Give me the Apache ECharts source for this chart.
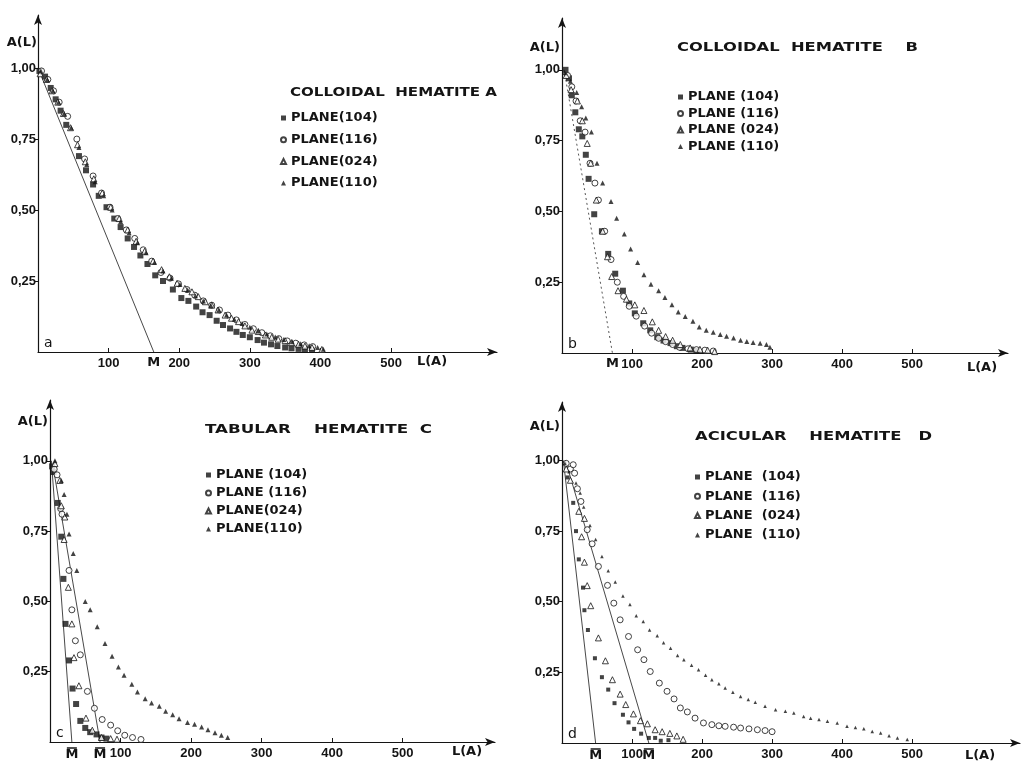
<!DOCTYPE html>
<html>
<head>
<meta charset="utf-8">
<title>Fourier coefficients A(L) of hematite line profiles</title>
<script src="https://cdn.jsdelivr.net/npm/echarts@6/dist/echarts.min.js"></script>
<style>
  html, body { margin: 0; padding: 0; background: #fff; }
  #chart { width: 1023px; height: 765px; }
</style>
</head>
<body>
<div id="chart"></div>
<script>
// ---- Data: A(L) versus column length L (Å) for four reflections ----

// Panel a: colloidal hematite A
const a104 = [[2,0.99],[10,0.97],[18,0.93],[25,0.89],[32,0.85],[40,0.80],[58,0.69],[68,0.64],[78,0.59],[86,0.55],[97,0.51],[108,0.47],[117,0.44],[127,0.40],[136,0.37],[145,0.34],[155,0.31],[166,0.27],[177,0.25],[191,0.22],[203,0.19],[213,0.18],[224,0.16],[233,0.14],[243,0.13],[253,0.11],[262,0.095],[272,0.083],[281,0.071],[290,0.06],[300,0.052],[311,0.042],[320,0.033],[330,0.027],[339,0.021],[350,0.016],[359,0.013],[369,0.011],[378,0.009],[388,0.008]];
const a116 = [[5,0.99],[14,0.96],[22,0.92],[30,0.88],[42,0.83],[55,0.75],[66,0.68],[78,0.62],[90,0.56],[102,0.51],[113,0.47],[125,0.43],[137,0.40],[149,0.36],[161,0.32],[174,0.28],[187,0.26],[199,0.24],[211,0.22],[222,0.20],[234,0.18],[246,0.165],[257,0.148],[269,0.13],[281,0.113],[293,0.097],[305,0.082],[317,0.068],[329,0.057],[341,0.047],[353,0.039],[365,0.031],[377,0.025],[389,0.019]];
const a024 = [[3,0.98],[12,0.96],[20,0.92],[28,0.88],[36,0.84],[46,0.79],[56,0.73],[67,0.67],[79,0.61],[91,0.56],[103,0.51],[115,0.47],[127,0.43],[139,0.39],[151,0.355],[163,0.32],[175,0.29],[186,0.265],[197,0.242],[208,0.224],[218,0.212],[227,0.195],[237,0.177],[246,0.165],[255,0.148],[265,0.13],[274,0.119],[284,0.107],[293,0.092],[303,0.077],[312,0.072],[322,0.06],[331,0.052],[340,0.045],[350,0.04],[359,0.033],[369,0.027],[378,0.021],[388,0.016],[402,0.009]];
const a110 = [[4,0.99],[13,0.96],[21,0.92],[29,0.88],[37,0.84],[47,0.79],[58,0.72],[69,0.66],[81,0.60],[93,0.55],[105,0.50],[117,0.46],[129,0.42],[141,0.385],[153,0.35],[165,0.315],[177,0.285],[189,0.26],[201,0.238],[212,0.218],[223,0.198],[234,0.18],[245,0.163],[256,0.147],[267,0.13],[278,0.115],[289,0.10],[300,0.087],[312,0.074],[324,0.063],[336,0.053],[348,0.044],[360,0.036],[372,0.029],[384,0.022],[396,0.016],[404,0.01]];
const tangentA = [[0,1.0],[164,0]];

// Panel b: colloidal hematite B
const b104 = [[5,1.0],[10,0.97],[14,0.91],[19,0.85],[24,0.79],[29,0.765],[34,0.70],[38,0.615],[46,0.49],[57,0.43],[66,0.35],[76,0.28],[87,0.22],[96,0.175],[104,0.14],[116,0.105],[126,0.08],[136,0.056],[145,0.044],[155,0.035],[164,0.024],[172,0.018],[184,0.012],[192,0.008]];
const b116 = [[8,0.98],[14,0.94],[20,0.89],[26,0.82],[33,0.78],[40,0.67],[47,0.60],[52,0.54],[61,0.43],[70,0.33],[79,0.25],[88,0.20],[96,0.165],[106,0.13],[118,0.095],[128,0.07],[138,0.052],[148,0.04],[158,0.03],[168,0.02],[180,0.015],[192,0.012],[204,0.01],[216,0.007]];
const b024 = [[6,0.98],[13,0.93],[22,0.89],[29,0.82],[36,0.74],[41,0.67],[49,0.54],[58,0.43],[65,0.34],[71,0.27],[80,0.22],[92,0.19],[104,0.17],[117,0.15],[129,0.11],[138,0.08],[148,0.058],[158,0.045],[169,0.03],[183,0.018],[197,0.013],[208,0.01],[218,0.005]];
const b110 = [[4,0.99],[12,0.96],[21,0.92],[28,0.87],[34,0.83],[42,0.78],[50,0.67],[58,0.60],[70,0.535],[78,0.476],[89,0.42],[98,0.367],[108,0.32],[117,0.276],[127,0.243],[138,0.22],[147,0.196],[157,0.17],[166,0.145],[176,0.129],[187,0.112],[196,0.092],[206,0.08],[216,0.073],[226,0.065],[235,0.059],[245,0.053],[255,0.045],[264,0.041],[273,0.037],[283,0.034],[292,0.03],[297,0.02]];
const tangentB = [[3,1.0],[72,0]];

// Panel c: tabular hematite C
const c104 = [[3,0.98],[5,0.96],[11,0.85],[16,0.73],[19,0.58],[22,0.42],[27,0.29],[32,0.19],[37,0.135],[43,0.075],[50,0.05],[57,0.035],[66,0.027],[73,0.016],[80,0.012]];
const c116 = [[6,0.97],[10,0.95],[15,0.83],[17,0.81],[27,0.61],[31,0.47],[36,0.36],[43,0.31],[53,0.18],[63,0.12],[74,0.08],[86,0.06],[96,0.04],[106,0.024],[117,0.016],[129,0.009]];
const c024 = [[7,0.99],[14,0.93],[16,0.84],[21,0.80],[20,0.72],[26,0.55],[31,0.42],[34,0.30],[41,0.20],[51,0.085],[60,0.042],[73,0.016],[86,0.012],[95,0.01]];
const c110 = [[7,1.0],[16,0.93],[20,0.88],[24,0.81],[27,0.74],[33,0.67],[38,0.61],[50,0.50],[57,0.47],[67,0.41],[78,0.35],[88,0.305],[97,0.267],[105,0.237],[116,0.205],[124,0.178],[135,0.154],[144,0.139],[155,0.127],[164,0.109],[174,0.097],[183,0.083],[195,0.069],[205,0.063],[215,0.053],[224,0.044],[234,0.033],[243,0.024],[252,0.016]];
const tangentC1 = [[2,1.0],[31,0]];
const tangentC2 = [[5,0.97],[71,0]];

// Panel d: acicular hematite D
const d104 = [[3,0.99],[8,0.94],[16,0.85],[20,0.75],[24,0.65],[30,0.55],[32,0.47],[37,0.40],[47,0.30],[57,0.233],[66,0.189],[75,0.141],[87,0.10],[95,0.073],[103,0.05],[113,0.033],[124,0.018],[133,0.018],[141,0.008],[152,0.01]];
const d116 = [[6,0.99],[12,0.97],[16,0.985],[18,0.955],[22,0.90],[27,0.855],[36,0.755],[43,0.705],[52,0.625],[65,0.558],[74,0.495],[83,0.436],[95,0.377],[108,0.33],[117,0.295],[126,0.253],[139,0.212],[150,0.183],[160,0.156],[169,0.124],[179,0.11],[190,0.088],[202,0.071],[214,0.065],[224,0.061],[233,0.059],[245,0.056],[255,0.053],[267,0.05],[279,0.047],[290,0.044],[300,0.04]];
const d024 = [[6,0.97],[12,0.93],[24,0.82],[28,0.73],[32,0.795],[32,0.64],[36,0.557],[41,0.486],[52,0.372],[62,0.291],[72,0.224],[83,0.173],[91,0.136],[102,0.103],[112,0.079],[122,0.068],[133,0.047],[143,0.04],[154,0.034],[164,0.025],[173,0.013]];
const d110 = [[4,0.99],[10,0.96],[20,0.92],[26,0.885],[31,0.835],[40,0.77],[48,0.72],[57,0.66],[66,0.61],[76,0.57],[87,0.52],[97,0.49],[106,0.45],[116,0.43],[125,0.40],[136,0.38],[145,0.355],[155,0.335],[165,0.31],[174,0.295],[185,0.275],[195,0.259],[205,0.24],[214,0.224],[224,0.21],[233,0.195],[244,0.18],[255,0.165],[266,0.154],[276,0.144],[290,0.13],[305,0.118],[319,0.112],[331,0.106],[345,0.094],[355,0.088],[367,0.083],[379,0.077],[393,0.071],[407,0.059],[419,0.055],[431,0.05],[443,0.041],[455,0.035],[467,0.026],[479,0.018],[493,0.012]];
const tangentD1 = [[2,1.0],[48,0]];
const tangentD2 = [[5,1.0],[124,0]];

// Axis ticks and labels
const xTicks = [100, 200, 300, 400, 500];
const yTicks = [0.25, 0.5, 0.75, 1.0];

// Panel titles, legend names and M markers on the L axis
const titles = ['COLLOIDAL  HEMATITE A', 'COLLOIDAL  HEMATITE    B', 'TABULAR    HEMATITE  C', 'ACICULAR    HEMATITE   D'];
const planeNames = [
  ['PLANE(104)', 'PLANE(116)', 'PLANE(024)', 'PLANE(110)'],
  ['PLANE (104)', 'PLANE (116)', 'PLANE (024)', 'PLANE (110)'],
  ['PLANE (104)', 'PLANE (116)', 'PLANE(024)', 'PLANE(110)'],
  ['PLANE  (104)', 'PLANE  (116)', 'PLANE  (024)', 'PLANE  (110)']
];
const panelLetters = ['a', 'b', 'c', 'd'];
// bar = M written with an overbar
const mMarks = [
  [{ v: 164, t: 'M', bar: false }],
  [{ v: 72, t: 'M', bar: false }],
  [{ v: 31, t: 'M', bar: true }, { v: 71, t: 'M', bar: true }],
  [{ v: 48, t: 'M', bar: true }, { v: 124, t: 'M', bar: true }]
];

// ---- Layout ----
const INK = '#141414';
const grids = [
  { left: 38, top: 15, width: 459, height: 337 },
  { left: 562, top: 18, width: 446, height: 335 },
  { left: 50, top: 400, width: 445, height: 342 },
  { left: 562, top: 402, width: 458, height: 341 }
];
const xMax = [650, 637, 631, 654];
const yMax = [1.187, 1.183, 1.216, 1.207];

const seriesData = [
  [a104, a116, a024, a110],
  [b104, b116, b024, b110],
  [c104, c116, c024, c110],
  [d104, d116, d024, d110]
];
const tangents = [[tangentA], [tangentB], [tangentC1, tangentC2], [tangentD1, tangentD2]];

// marker sizes per panel: [square, circle, open triangle, filled triangle]
const markerSizes = [[6, 6, 6, 5], [6, 6, 6, 5], [6, 6, 6, 5], [4, 6, 6, 3.5]];
const kinds = [
  { symbol: 'rect', open: false },
  { symbol: 'circle', open: true },
  { symbol: 'triangle', open: true },
  { symbol: 'triangle', open: false }
];

function markerStyle(open) {
  return open
    ? { color: '#fff', borderColor: INK, borderWidth: 1 }
    : { color: INK, borderColor: INK, borderWidth: 0 };
}

const labelFont = { fontFamily: 'Liberation Sans', fontWeight: 'bold', fontSize: 13, color: INK };

const xAxes = grids.map((g, i) => ({
  gridIndex: i, type: 'value', min: 0, max: xMax[i],
  axisLine: { show: true, onZero: false, symbol: ['none', 'arrow'], symbolSize: [6, 10], lineStyle: { color: INK, width: 1.2 } },
  axisTick: { show: true, inside: true, length: 4, customValues: xTicks, lineStyle: { color: INK, width: 1 } },
  axisLabel: Object.assign({ customValues: xTicks, margin: 5 }, labelFont),
  splitLine: { show: false }
}));
const yAxes = grids.map((g, i) => ({
  gridIndex: i, type: 'value', min: 0, max: yMax[i],
  axisLine: { show: true, onZero: false, symbol: ['none', 'arrow'], symbolSize: [6, 10], lineStyle: { color: INK, width: 1.2 } },
  axisTick: { show: true, inside: false, length: 3, customValues: yTicks, lineStyle: { color: INK, width: 1 } },
  axisLabel: Object.assign({ customValues: yTicks, margin: 2, formatter: v => v.toFixed(2).replace('.', ',') }, labelFont),
  splitLine: { show: false }
}));

const series = [];
seriesData.forEach((group, i) => {
  tangents[i].forEach(line => {
    series.push({
      type: 'line', xAxisIndex: i, yAxisIndex: i, data: line, symbol: 'none', silent: true, z: 1,
      lineStyle: i === 1 ? { color: '#555', width: 1, type: [2, 3] } : { color: '#333', width: 0.9 }
    });
  });
  group.forEach((pts, k) => {
    series.push({
      type: 'scatter', name: planeNames[i][k], xAxisIndex: i, yAxisIndex: i, data: pts,
      symbol: kinds[k].symbol, symbolSize: markerSizes[i][k], z: 3,
      itemStyle: markerStyle(kinds[k].open)
    });
  });
});

// legend placement per panel: [left, top, itemGap]
const legendPos = [[280, 111, 7.7], [677, 90, 2.5], [205, 468, 4], [694, 470, 5.3]];
const legends = legendPos.map((p, i) => ({
  data: planeNames[i].map((n, k) => ({ name: n, icon: kinds[k].symbol })),
  orient: 'vertical', left: p[0], top: p[1], itemGap: p[2], padding: 0,
  itemWidth: 5, itemHeight: 5, selectedMode: false,
  textStyle: { fontFamily: 'DejaVu Sans', fontWeight: 'bold', fontSize: 13, lineHeight: 14, color: INK }
}));

const option = {
  backgroundColor: '#fff',
  animation: false,
  grid: grids.map(g => Object.assign({ containLabel: false }, g)),
  xAxis: xAxes,
  yAxis: yAxes,
  legend: legends,
  series: series
};

const chart = echarts.init(document.getElementById('chart'), null, { renderer: 'canvas' });
chart.setOption(option);

// ---- Text annotations placed from the axes ----
const measureCtx = document.createElement('canvas').getContext('2d');
function widthOf(text, font) { measureCtx.font = font; return measureCtx.measureText(text).width; }

const titleFont = 'bold 12px "DejaVu Sans"';
// [left, centre y, right]
const titleBox = [[290, 93, 497], [677, 48, 918], [205, 430, 432], [695, 437, 932]];
const aLabel = [[37, 43], [560, 48], [48, 422], [560, 427]];
const lLabel = [[432, 362], [982, 368], [467, 752], [980, 756]];

const graphics = [];
titles.forEach((t, i) => {
  const [l, cy, r] = titleBox[i];
  graphics.push({
    type: 'text', x: l, y: cy, scaleX: (r - l) / widthOf(t, titleFont), silent: true,
    style: { text: t, font: titleFont, fill: INK, align: 'left', verticalAlign: 'middle' }
  });
});
grids.forEach((g, i) => {
  const origin = chart.convertToPixel({ gridIndex: i }, [0, 0]);
  graphics.push({
    type: 'text', x: origin[0] + 6, y: origin[1] - 9, silent: true,
    style: { text: panelLetters[i], font: '14px "DejaVu Sans"', fill: INK, align: 'left', verticalAlign: 'middle' }
  });
  graphics.push({
    type: 'text', x: aLabel[i][0], y: aLabel[i][1], silent: true,
    style: { text: 'A(L)', font: 'bold 13px "DejaVu Sans"', fill: INK, align: 'right', verticalAlign: 'middle' }
  });
  graphics.push({
    type: 'text', x: lLabel[i][0], y: lLabel[i][1], silent: true,
    style: { text: 'L(A)', font: 'bold 13px "DejaVu Sans"', fill: INK, align: 'center', verticalAlign: 'middle' }
  });
  mMarks[i].forEach(m => {
    const p = chart.convertToPixel({ gridIndex: i }, [m.v, 0]);
    const top = p[1] + (m.bar ? 6 : 4);
    graphics.push({
      type: 'text', x: p[0], y: top, silent: true,
      style: { text: m.t, font: 'bold 13px "DejaVu Sans"', fill: INK, align: 'center', verticalAlign: 'top' }
    });
    if (m.bar) {
      graphics.push({
        type: 'line', silent: true,
        shape: { x1: p[0] - 5, y1: top, x2: p[0] + 5, y2: top },
        style: { stroke: INK, lineWidth: 1.5 }
      });
    }
  });
});
chart.setOption({ graphic: graphics });
</script>
</body>
</html>
